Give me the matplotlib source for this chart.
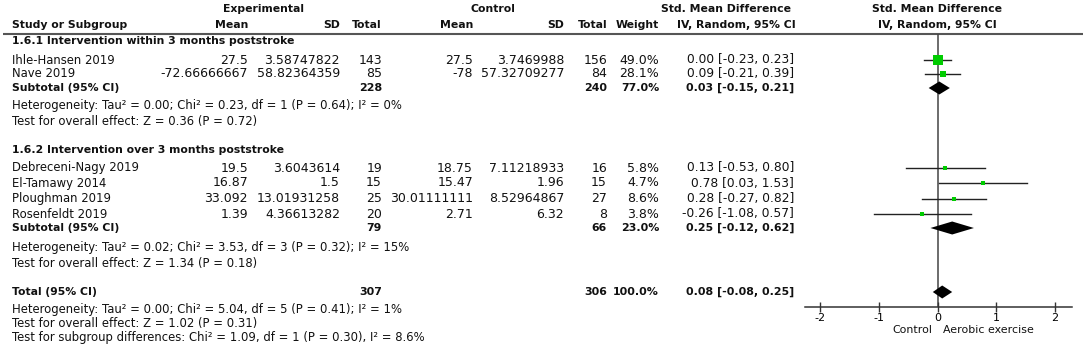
import matplotlib
matplotlib.use("Agg")
import matplotlib.pyplot as plt

plt.rcParams['font.family'] = ['DejaVu Sans']
plt.rcParams['axes.unicode_minus'] = False

# study level data
studies = ['Ihle-Hansen 2019', 'Nave 2019', 'Debreceni-Nagy 2019', 'El-Tamawy 2014',
           'Ploughman 2019', 'Rosenfeldt 2019']
exp_mean = ['27.5', '-72.66666667', '19.5', '16.87', '33.092', '1.39']
exp_sd = ['3.58747822', '58.82364359', '3.6043614', '1.5', '13.01931258', '4.36613282']
exp_n = [143, 85, 19, 15, 25, 20]
ctl_mean = ['27.5', '-78', '18.75', '15.47', '30.01111111', '2.71']
ctl_sd = ['3.7469988', '57.32709277', '7.11218933', '1.96', '8.52964867', '6.32']
ctl_n = [156, 84, 16, 15, 27, 8]
weight = [49.0, 28.1, 5.8, 4.7, 8.6, 3.8]
smd = [0.00, 0.09, 0.13, 0.78, 0.28, -0.26]
ci_lo = [-0.23, -0.21, -0.53, 0.03, -0.27, -1.08]
ci_hi = [0.23, 0.39, 0.80, 1.53, 0.82, 0.57]

# subgroup / total pooled
sub_names = ['1.6.1 Intervention within 3 months poststroke',
             '1.6.2 Intervention over 3 months poststroke']
sub_exp_n = [228, 79]
sub_ctl_n = [240, 66]
sub_weight = [77.0, 23.0]
sub_smd = [0.03, 0.25]
sub_lo = [-0.15, -0.12]
sub_hi = [0.21, 0.62]
sub_het = ['Heterogeneity: Tau² = 0.00; Chi² = 0.23, df = 1 (P = 0.64); I² = 0%',
           'Heterogeneity: Tau² = 0.02; Chi² = 3.53, df = 3 (P = 0.32); I² = 15%']
sub_test = ['Test for overall effect: Z = 0.36 (P = 0.72)',
            'Test for overall effect: Z = 1.34 (P = 0.18)']
tot_exp_n, tot_ctl_n, tot_weight = 307, 306, 100.0
tot_smd, tot_lo, tot_hi = 0.08, -0.08, 0.25
tot_notes = ['Heterogeneity: Tau² = 0.00; Chi² = 5.04, df = 5 (P = 0.41); I² = 1%',
             'Test for overall effect: Z = 1.02 (P = 0.31)',
             'Test for subgroup differences: Chi² = 1.09, df = 1 (P = 0.30), I² = 8.6%']
xticks = [-2, -1, 0, 1, 2]

# layout (pixel rows)
study_y = [60, 73.5, 168, 183, 198.5, 214]
sub_head_y = [41, 150]
sub_y = [88, 228]
het_y = [105, 247]
test_y = [121, 263]
tot_y = 292
note_y = [310, 323.5, 337]

FS = 8.4     # plain text
FSN = 9.0    # plain numbers
FSB = 7.8    # bold text
FSBN = 7.9   # bold numbers
W, H = 1084, 348
fig = plt.figure(figsize=(W / 100, H / 100), dpi=100)
tax = fig.add_axes([0, 0, 1, 1])
tax.set_xlim(0, W)
tax.set_ylim(H, 0)
tax.axis('off')

col_x = {'name': 12, 'em': 248, 'esd': 340, 'en': 382, 'cm': 473, 'csd': 564,
         'cn': 607, 'w': 659, 'ci': 794}


def t(x, y, s, ha='left', bold=False, size=None):
    if size is None:
        size = FSB if bold else FS
    tax.text(x, y, s, ha=ha, va='center', fontsize=size,
             fontweight='bold' if bold else 'normal', color='#111111')


def ci_str(m, lo, hi):
    return '%.2f [%.2f, %.2f]' % (m, lo, hi)


# header
t(264, 9, 'Experimental', 'center', True)
t(493, 9, 'Control', 'center', True)
t(726, 9, 'Std. Mean Difference', 'center', True)
t(937, 9, 'Std. Mean Difference', 'center', True)
t(col_x['name'], 25, 'Study or Subgroup', bold=True)
t(col_x['em'], 25, 'Mean', 'right', True)
t(col_x['esd'], 25, 'SD', 'right', True)
t(col_x['en'], 25, 'Total', 'right', True)
t(col_x['cm'], 25, 'Mean', 'right', True)
t(col_x['csd'], 25, 'SD', 'right', True)
t(col_x['cn'], 25, 'Total', 'right', True)
t(col_x['w'], 25, 'Weight', 'right', True)
t(736, 25, 'IV, Random, 95% CI', 'center', True)
t(937, 25, 'IV, Random, 95% CI', 'center', True)
tax.plot([3, 1083], [33.5, 33.5], color='#555555', lw=1.5, solid_capstyle='butt')

for i in range(len(studies)):
    y = study_y[i]
    t(col_x['name'], y, studies[i])
    t(col_x['em'], y, exp_mean[i], 'right', size=FSN)
    t(col_x['esd'], y, exp_sd[i], 'right', size=FSN)
    t(col_x['en'], y, str(exp_n[i]), 'right', size=FSN)
    t(col_x['cm'], y, ctl_mean[i], 'right', size=FSN)
    t(col_x['csd'], y, ctl_sd[i], 'right', size=FSN)
    t(col_x['cn'], y, str(ctl_n[i]), 'right', size=FSN)
    t(col_x['w'], y, '%.1f%%' % weight[i], 'right', size=FSN)
    t(col_x['ci'], y, ci_str(smd[i], ci_lo[i], ci_hi[i]), 'right', size=8.8)

for g in range(2):
    t(col_x['name'], sub_head_y[g], sub_names[g], bold=True)
    y = sub_y[g]
    t(col_x['name'], y, 'Subtotal (95% CI)', bold=True)
    t(col_x['en'], y, str(sub_exp_n[g]), 'right', True, FSBN)
    t(col_x['cn'], y, str(sub_ctl_n[g]), 'right', True, FSBN)
    t(col_x['w'], y, '%.1f%%' % sub_weight[g], 'right', True, FSBN)
    t(col_x['ci'], y, ci_str(sub_smd[g], sub_lo[g], sub_hi[g]), 'right', True, FSBN)
    t(col_x['name'], het_y[g], sub_het[g])
    t(col_x['name'], test_y[g], sub_test[g])

t(col_x['name'], tot_y, 'Total (95% CI)', bold=True)
t(col_x['en'], tot_y, str(tot_exp_n), 'right', True, FSBN)
t(col_x['cn'], tot_y, str(tot_ctl_n), 'right', True, FSBN)
t(col_x['w'], tot_y, '%.1f%%' % tot_weight, 'right', True, FSBN)
t(col_x['ci'], tot_y, ci_str(tot_smd, tot_lo, tot_hi), 'right', True, FSBN)
for s, y in zip(tot_notes, note_y):
    t(col_x['name'], y, s)

# forest panel
left, right, top, bottom = 805, 1072, 33.5, 307
fax = fig.add_axes([left / W, (H - bottom) / H, (right - left) / W, (bottom - top) / H])
fax.patch.set_alpha(0)
fax.set_xlim(-2.255, 2.289)
fax.set_ylim(bottom, top)
for sp in ['top', 'left', 'right']:
    fax.spines[sp].set_visible(False)
fax.spines['bottom'].set_color('#333333')
fax.spines['bottom'].set_linewidth(1.1)
fax.set_yticks([])
fax.set_xticks(xticks)
fax.tick_params(axis='x', direction='inout', length=7, width=1, color='#333333',
                labelsize=8, pad=1)
fax.axvline(0, color='#444444', lw=1.1, zorder=1)

for i in range(len(studies)):
    y = study_y[i]
    fax.plot([ci_lo[i], ci_hi[i]], [y, y], color='#222222', lw=1.0, zorder=2)
    side = max(3.6, 1.3 * weight[i] ** 0.5)
    fax.plot(smd[i], y, 's', color='#00cc00', ms=side * 0.72, mew=0, zorder=3)


def diamond(m, lo, hi, y, h=6.5):
    fax.fill([lo, m, hi, m], [y, y - h, y, y + h], color='black', lw=0, zorder=3)


for g in range(2):
    diamond(sub_smd[g], sub_lo[g], sub_hi[g], sub_y[g])
diamond(tot_smd, tot_lo, tot_hi, tot_y)

tax.text(932, 330, 'Control', ha='right', va='center', fontsize=7.9, color='#111111')
tax.text(943, 330, 'Aerobic exercise', ha='left', va='center', fontsize=7.9, color='#111111')

fig.savefig('out.png', dpi=100)
